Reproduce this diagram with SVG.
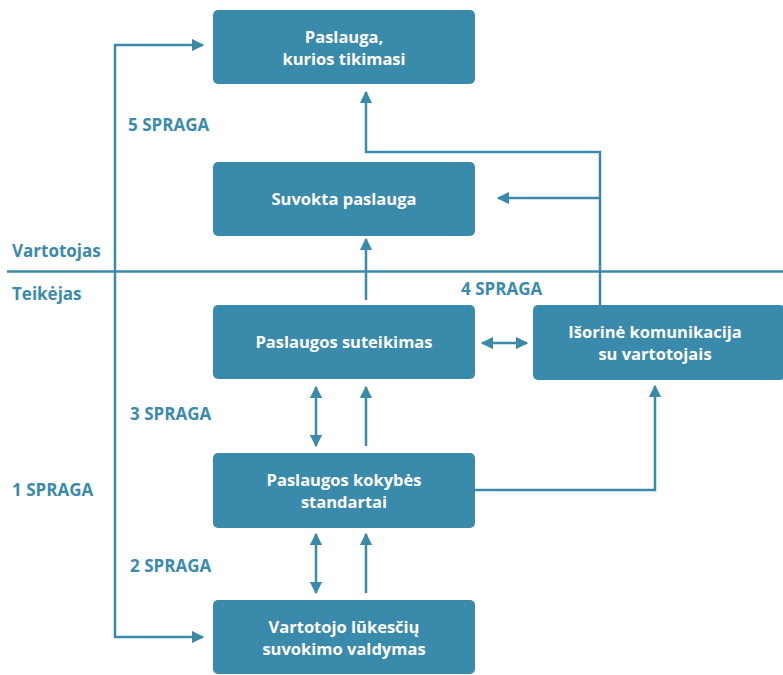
<svg xmlns="http://www.w3.org/2000/svg" width="783" height="675" viewBox="0 0 783 675">
<style>
.box{fill:#3a8bab}
.bt{font-family:"Open Sans","Liberation Sans",sans-serif;font-weight:bold;font-size:16.5px;fill:#ffffff;text-anchor:middle}
.lb{font-family:"Open Sans","Liberation Sans",sans-serif;font-weight:bold;font-size:17px;fill:#3a8bab}
.ln{stroke:#3a8bab;stroke-width:2.5;fill:none}
</style>
<defs>
<marker id="ah" viewBox="0 0 10 10" refX="9" refY="5" markerWidth="5" markerHeight="5" orient="auto-start-reverse" markerUnits="strokeWidth">
<path d="M0,0 L10,5 L0,10 Z" fill="#3a8bab"/>
</marker>
</defs>
<rect width="783" height="675" fill="#ffffff"/>
<g id="connectors">
<line class="ln" x1="7" y1="271.5" x2="783" y2="271.5"/>
<polyline class="ln" points="203,45 115,45 115,637 203,637" marker-start="url(#ah)" marker-end="url(#ah)"/>
<polyline class="ln" points="600,305 600,152 366,152 366,92" marker-end="url(#ah)"/>
<line class="ln" x1="600" y1="198" x2="498" y2="198" marker-end="url(#ah)"/>
<line class="ln" x1="366" y1="300" x2="366" y2="239" marker-end="url(#ah)"/>
<line class="ln" x1="482" y1="343" x2="527" y2="343" marker-start="url(#ah)" marker-end="url(#ah)"/>
<line class="ln" x1="316" y1="387" x2="316" y2="446" marker-start="url(#ah)" marker-end="url(#ah)"/>
<line class="ln" x1="366" y1="446" x2="366" y2="387" marker-end="url(#ah)"/>
<line class="ln" x1="316" y1="534" x2="316" y2="593" marker-start="url(#ah)" marker-end="url(#ah)"/>
<line class="ln" x1="366" y1="593" x2="366" y2="534" marker-end="url(#ah)"/>
<polyline class="ln" points="475,490 655,490 655,386" marker-end="url(#ah)"/>
</g>
<g id="n1"><rect class="box" x="213" y="10" width="262" height="74" rx="5"/><text class="bt" x="344" y="43">Paslauga,</text><text class="bt" x="344" y="65">kurios tikimasi</text></g>
<g id="n2"><rect class="box" x="213" y="162" width="262" height="74" rx="5"/><text class="bt" x="344" y="205">Suvokta paslauga</text></g>
<g id="n3"><rect class="box" x="213" y="305" width="262" height="74" rx="5"/><text class="bt" x="344" y="348">Paslaugos suteikimas</text></g>
<g id="n4"><rect class="box" x="533" y="305" width="252" height="75" rx="5"/><text class="bt" x="655" y="338">Išorinė komunikacija</text><text class="bt" x="655" y="360">su vartotojais</text></g>
<g id="n5"><rect class="box" x="213" y="453" width="262" height="75" rx="5"/><text class="bt" x="344" y="486">Paslaugos kokybės</text><text class="bt" x="344" y="508">standartai</text></g>
<g id="n6"><rect class="box" x="213" y="600" width="262" height="74" rx="5"/><text class="bt" x="344" y="633">Vartotojo lūkesčių</text><text class="bt" x="344" y="655">suvokimo valdymas</text></g>
<g id="labels">
<text class="lb" x="128" y="131">5 SPRAGA</text>
<text class="lb" x="12" y="257">Vartotojas</text>
<text class="lb" x="12" y="300">Teikėjas</text>
<text class="lb" x="461" y="295">4 SPRAGA</text>
<text class="lb" x="130" y="420">3 SPRAGA</text>
<text class="lb" x="12" y="496">1 SPRAGA</text>
<text class="lb" x="130" y="572">2 SPRAGA</text>
</g>
</svg>
